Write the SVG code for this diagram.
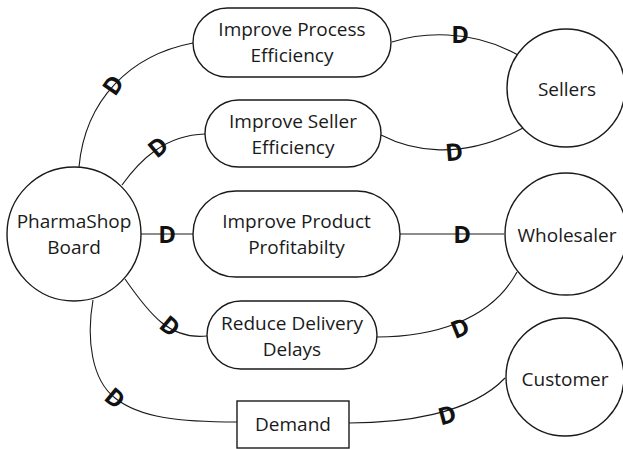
<svg xmlns="http://www.w3.org/2000/svg" width="623" height="449" viewBox="0 0 623 449">
<style>
.shape{fill:#fff;stroke:#1a1a1a;stroke-width:1.4}
.lbl{font-family:"Open Sans","Liberation Sans",sans-serif;font-size:19px;fill:#1a1a1a;text-anchor:middle}
.link{fill:none;stroke:#1a1a1a;stroke-width:1.1}
.d{font-family:"Open Sans","DejaVu Sans",sans-serif;font-weight:bold;font-size:24px;fill:#111;text-anchor:middle}
</style>
<rect width="623" height="449" fill="#fff"/>
<g id="connectors">
<path class="link" d="M79,167 C85,100 130,55 193,43"/>
<path class="link" d="M392,42 C420,33 470,28 518,55"/>
<path class="link" d="M122,185 C140,160 165,135 205,134"/>
<path class="link" d="M381,135 C410,150 460,162 523,128"/>
<path class="link" d="M140,234 L193,234"/>
<path class="link" d="M400,234 L504,234"/>
<path class="link" d="M125,279 C150,315 170,340 207,336"/>
<path class="link" d="M377,337 C430,337 490,322 517,272"/>
<path class="link" d="M93,300 C86,340 92,380 115,398 C140,418 180,422 237,422"/>
<path class="link" d="M349,423 C400,423 470,415 505,378"/>
<g id="dmarks">
<text class="d" transform="translate(113,85) rotate(-55)" y="8.6">D</text>
<text class="d" transform="translate(460,34)" y="8.6">D</text>
<text class="d" transform="translate(158,147) rotate(-40)" y="8.6">D</text>
<text class="d" transform="translate(454,152) rotate(-5)" y="8.6">D</text>
<text class="d" transform="translate(167,234)" y="8.6">D</text>
<text class="d" transform="translate(462,234)" y="8.6">D</text>
<text class="d" transform="translate(170,326) rotate(40)" y="8.6">D</text>
<text class="d" transform="translate(460,328) rotate(-22)" y="8.6">D</text>
<text class="d" transform="translate(115,398) rotate(40)" y="8.6">D</text>
<text class="d" transform="translate(447,415) rotate(-15)" y="8.6">D</text>
</g>
</g>
<g id="pharmashop">
<circle class="shape" cx="74" cy="234" r="67"/>
<text class="lbl" x="74" y="228">PharmaShop</text>
<text class="lbl" x="74" y="254">Board</text>
</g>
<g id="goal-process">
<rect class="shape" x="193" y="8" width="198" height="69" rx="34.5"/>
<text class="lbl" x="292" y="36">Improve Process</text>
<text class="lbl" x="292" y="62">Efficiency</text>
</g>
<g id="goal-seller">
<rect class="shape" x="205" y="100" width="176" height="67" rx="33.5"/>
<text class="lbl" x="293" y="128">Improve Seller</text>
<text class="lbl" x="293" y="154">Efficiency</text>
</g>
<g id="goal-product">
<rect class="shape" x="193" y="191" width="207" height="86" rx="43"/>
<text class="lbl" x="296.5" y="228">Improve Product</text>
<text class="lbl" x="296.5" y="254">Profitabilty</text>
</g>
<g id="goal-delivery">
<rect class="shape" x="207" y="301" width="170" height="68" rx="34"/>
<text class="lbl" x="292" y="330">Reduce Delivery</text>
<text class="lbl" x="292" y="356">Delays</text>
</g>
<g id="demand">
<rect class="shape" x="237" y="401" width="112" height="47"/>
<text class="lbl" x="293" y="431">Demand</text>
</g>
<g id="sellers">
<circle class="shape" cx="566" cy="88" r="59"/>
<text class="lbl" x="567" y="96">Sellers</text>
</g>
<g id="wholesaler">
<circle class="shape" cx="566" cy="234" r="61"/>
<text class="lbl" x="567" y="242">Wholesaler</text>
</g>
<g id="customer">
<circle class="shape" cx="565" cy="377" r="59"/>
<text class="lbl" x="565" y="386">Customer</text>
</g>
</svg>
